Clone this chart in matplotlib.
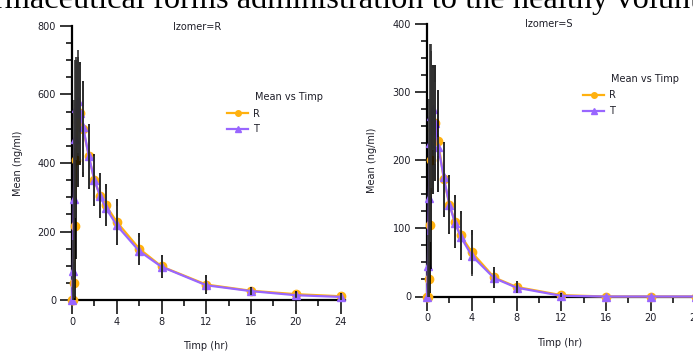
import matplotlib
matplotlib.use("Agg")
import matplotlib.pyplot as plt
from matplotlib.lines import Line2D
from matplotlib.ticker import MultipleLocator

# ---- data ----
times = [0, 0.08, 0.17, 0.25, 0.33, 0.5, 0.75, 1, 1.5, 2, 2.5, 3, 4, 6, 8, 12, 16, 20, 24]

# Izomer = R
r_R = [0, 0, 50, 215, 410, 520, 545, 500, 420, 350, 305, 278, 228, 150, 98, 45, 27, 17, 11]
r_R_err = [0, 0, 60, 230, 290, 190, 150, 140, 95, 75, 65, 62, 68, 47, 34, 27, 12, 8, 10]
r_T = [0, 85, 295, 470, 560, 580, 545, 505, 420, 350, 305, 270, 218, 143, 97, 43, 26, 14, 9]
r_T_err = [0, 90, 290, 230, 150, 150, 140, 130, 90, 70, 65, 55, 55, 40, 30, 22, 10, 7, 8]

# Izomer = S
s_R = [0, 0, 25, 105, 200, 245, 255, 228, 172, 135, 110, 90, 65, 28, 14, 2, 0, 0, 0]
s_R_err = [0, 0, 25, 100, 160, 95, 85, 75, 55, 43, 39, 36, 32, 16, 9, 3, 0, 0, 0]
s_T = [0, 45, 145, 225, 265, 275, 255, 220, 175, 135, 108, 88, 60, 27, 13, 1, 0, 0, 0]
s_T_err = [0, 45, 145, 145, 105, 60, 60, 14, 50, 40, 36, 33, 30, 15, 8, 2, 0, 0, 0]

panels = [
    dict(title="Izomer=R", R=r_R, Rerr=r_R_err, T=r_T, Terr=r_T_err, ymax=800, major=200, minor=50),
    dict(title="Izomer=S", R=s_R, Rerr=s_R_err, T=s_T, Terr=s_T_err, ymax=400, major=100, minor=25),
]
x_ticks = [0, 4, 8, 12, 16, 20, 24]
series_labels = ["R", "T"]
legend_title = "Mean vs Timp"
xlabel = "Timp (hr)"
ylabel = "Mean (ng/ml)"
header = "rmaceutical forms administration to the healthy volunteers"

# ---- style ----
W, H = 693, 351
ORANGE = "#FFB10F"
PURPLE = "#9966FF"
TXT = "#1e1e28"
FS = 7

fig = plt.figure(figsize=(W / 100, H / 100), dpi=100)

def fx(px):
    return px / W

def fy(py):
    return 1 - py / H

axes_px = [
    (72, 300, 273, 274),     # left, bottom(px from top), width, height
    (427, 296.5, 273, 272.5),
]
title_px = [(197, 27), (549, 24)]
legend_px = [(227, 97, 121.5), (583, 79, 103)]
ylabel_px = [(18, 163), (372, 160)]
xlabel_px = [(206, 346), (560, 343)]

for p, (l, b, w, h), (tx, ty), (lx, lty, lcy), (ylx, yly), (xlx, xly) in zip(
        panels, axes_px, title_px, legend_px, ylabel_px, xlabel_px):
    ax = fig.add_axes([fx(l), 1 - b / H, w / W, h / H])
    ax.set_xlim(0, 24.4)
    ax.set_ylim(0, p["ymax"])
    for s in ["top", "right"]:
        ax.spines[s].set_visible(False)
    for s in ["left", "bottom"]:
        ax.spines[s].set_linewidth(1.6)
        ax.spines[s].set_color("black")
    ax.set_xticks(x_ticks)
    ax.xaxis.set_minor_locator(MultipleLocator(2))
    ax.yaxis.set_major_locator(MultipleLocator(p["major"]))
    ax.yaxis.set_minor_locator(MultipleLocator(p["minor"]))
    ax.tick_params(axis="x", which="major", length=10, width=1.1, pad=2,
                   labelsize=FS, labelcolor=TXT, color="black")
    ax.tick_params(axis="x", which="minor", length=4.5, width=1.1, color="black")
    ax.tick_params(axis="y", which="major", length=8.5, width=1.1, pad=3,
                   labelsize=FS, labelcolor=TXT, color="black")
    ax.tick_params(axis="y", which="minor", length=4.3, width=1.1, color="black")

    ax.plot(times, p["R"], color=ORANGE, lw=1.6, marker="o", ms=6,
            mec=ORANGE, clip_on=False, zorder=3)
    ax.plot(times, p["T"], color=PURPLE, lw=1.6, marker="^", ms=6,
            mec=PURPLE, clip_on=False, zorder=4)
    ax.errorbar(times, p["R"], yerr=p["Rerr"], fmt="none", ecolor="black",
                elinewidth=1.2, capsize=0, zorder=5)
    ax.errorbar(times, p["T"], yerr=p["Terr"], fmt="none", ecolor="#333333",
                elinewidth=1.2, capsize=0, zorder=5)

    fig.text(fx(tx), fy(ty), p["title"], ha="center", va="center", fontsize=FS, color=TXT)
    fig.text(fx(ylx), fy(yly), ylabel, ha="center", va="center", rotation=90,
             fontsize=FS, color=TXT)
    fig.text(fx(xlx), fy(xly), xlabel, ha="center", va="center", fontsize=FS, color=TXT)

    fig.text(fx(lx + 28), fy(lty), legend_title, ha="left", va="center",
             fontsize=FS, color=TXT)
    handles = [
        Line2D([], [], color=ORANGE, lw=1.6, marker="o", ms=4),
        Line2D([], [], color=PURPLE, lw=1.6, marker="^", ms=4),
    ]
    fig.legend(handles, series_labels, loc="center left",
               bbox_to_anchor=(fx(lx), fy(lcy)), frameon=False, fontsize=FS,
               borderpad=0, borderaxespad=0, handlelength=2.2, handletextpad=0.5,
               labelspacing=0.6, labelcolor=TXT)

fig.text(fx(-6), fy(8), header, ha="left", va="baseline", fontsize=23.3,
         family="Liberation Serif", color="black")

fig.savefig("out.png", dpi=100)
